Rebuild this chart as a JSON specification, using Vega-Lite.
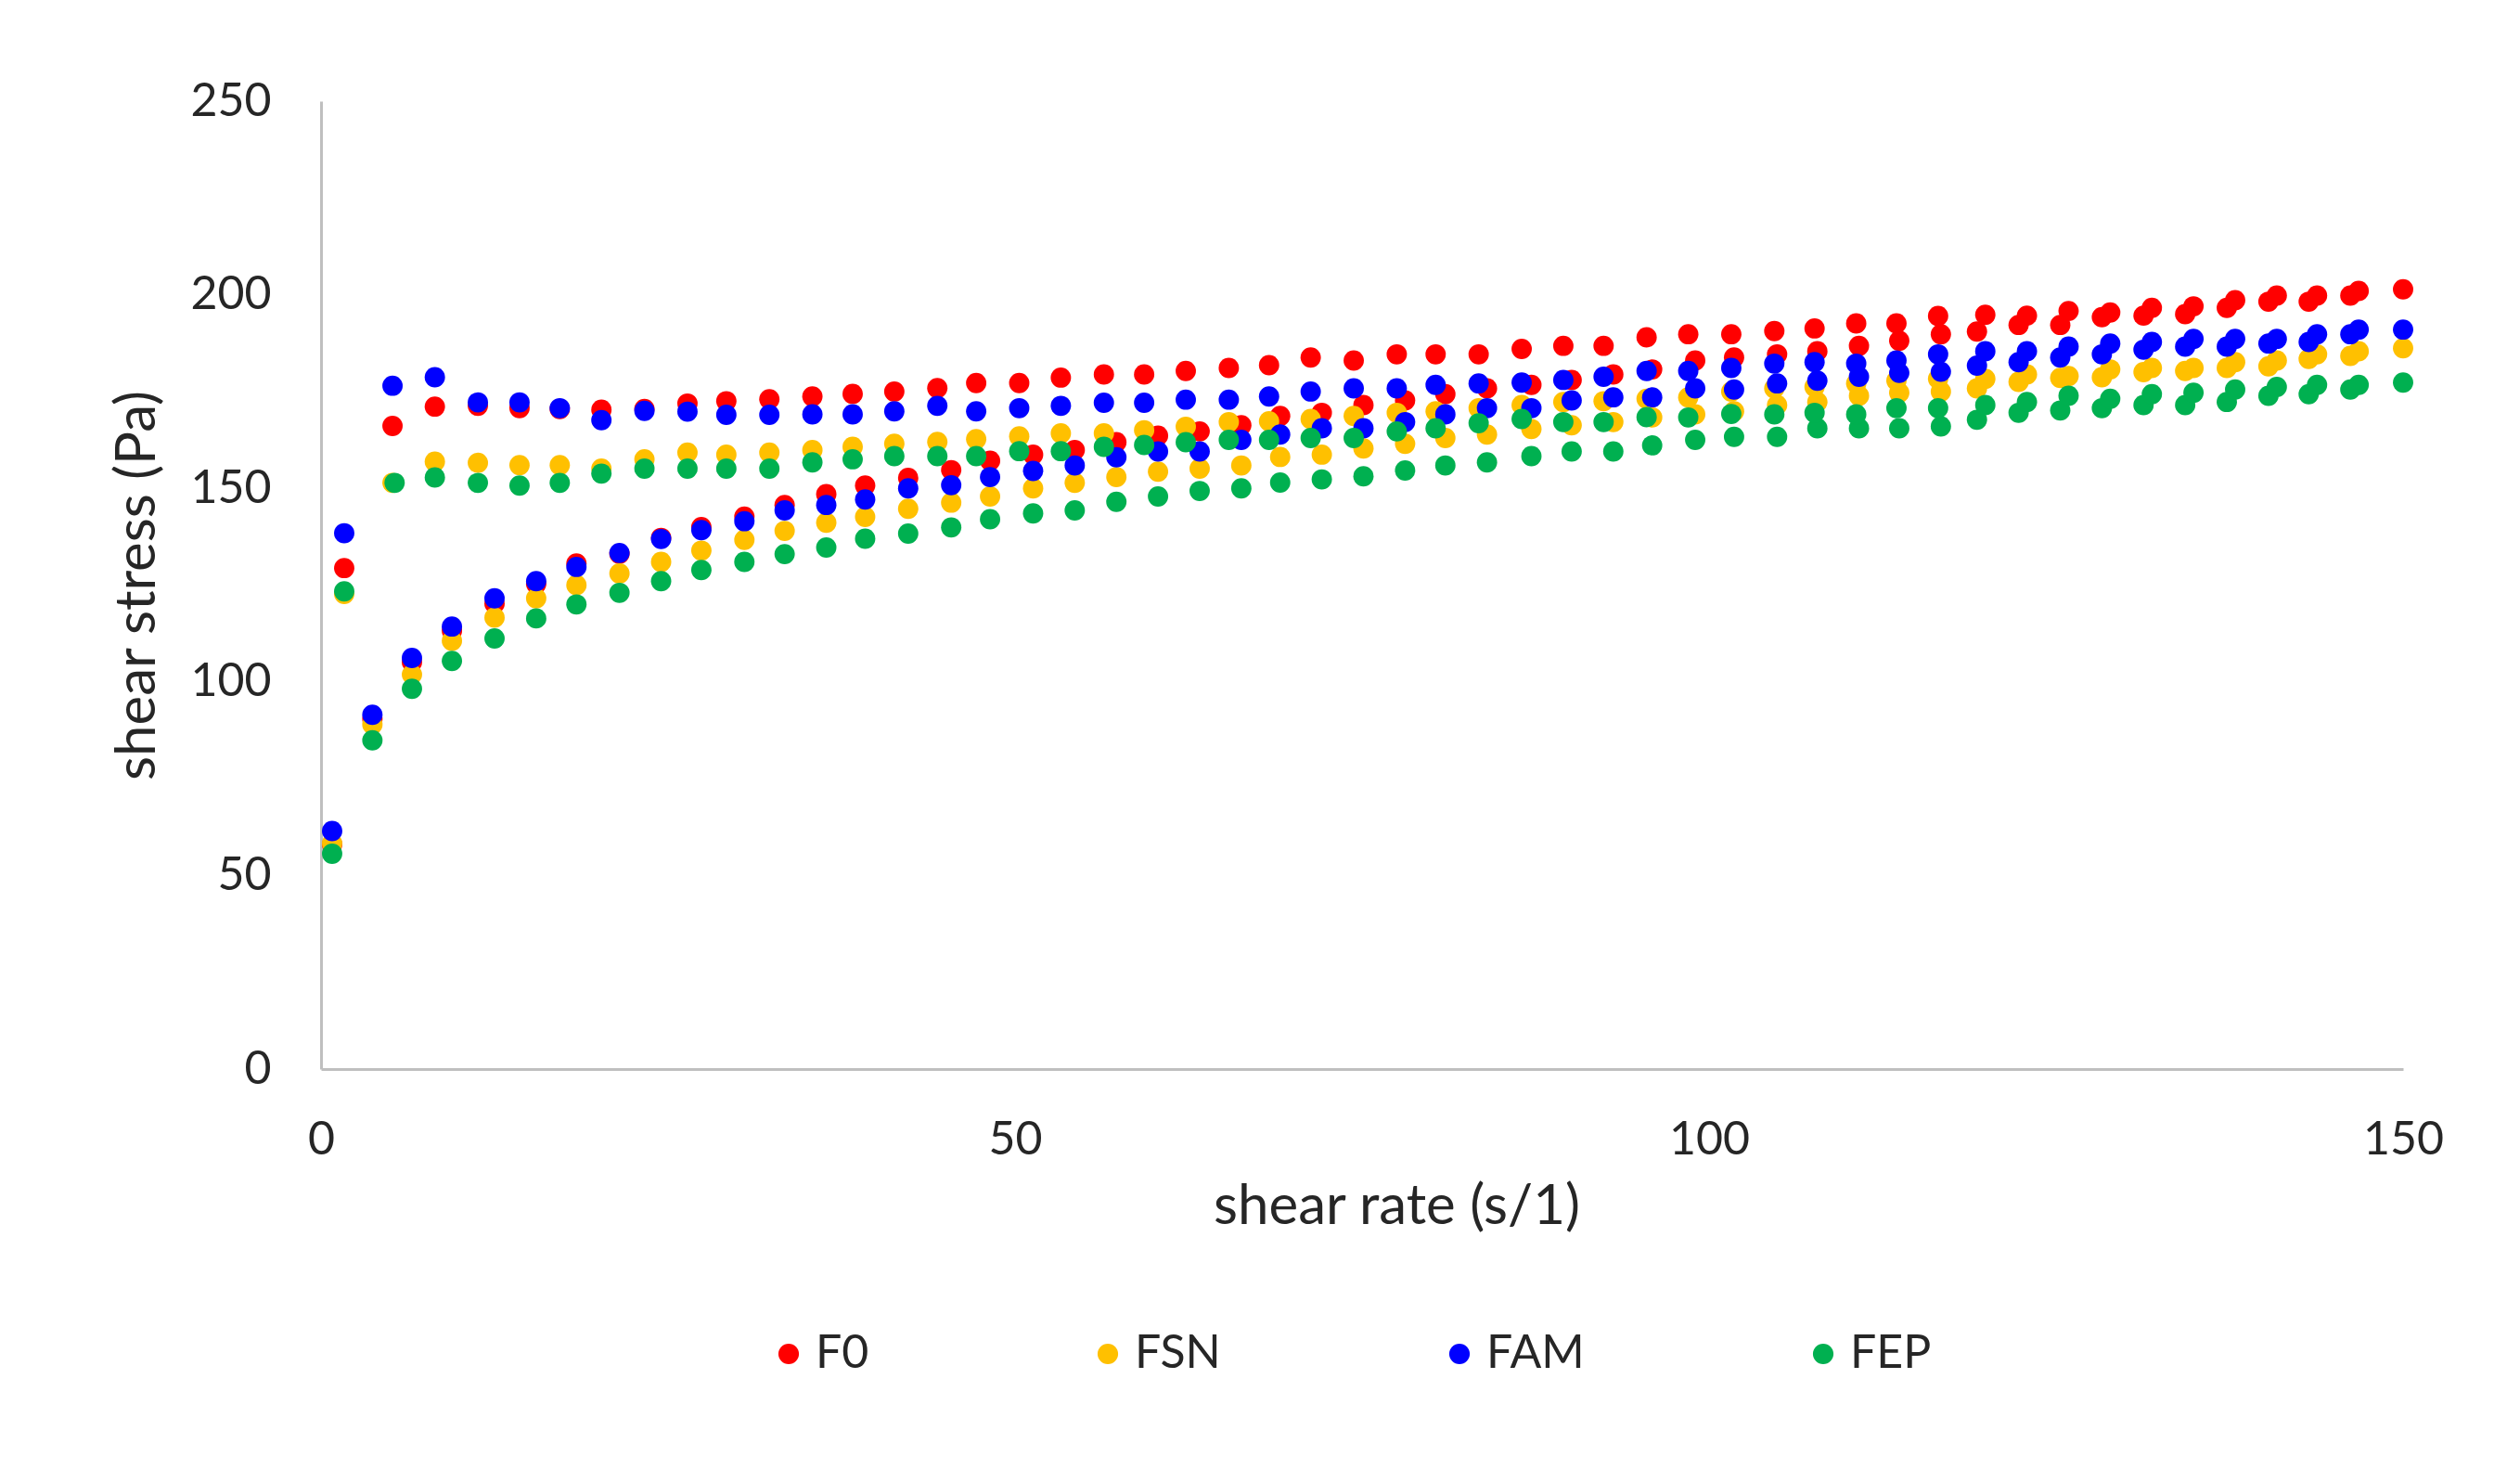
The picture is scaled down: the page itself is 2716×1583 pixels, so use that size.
{
"$schema": "https://vega.github.io/schema/vega-lite/v6.json",
"width": 2244,
"height": 1043,
"autosize": {"type": "none"},
"padding": {"left": 346, "top": 109, "right": 126, "bottom": 431},
"background": "white",
"config": {
  "view": {"stroke": null},
  "font": "Lato",
  "axis": {"domainColor": "#BFBFBF", "domainWidth": 3, "ticks": false, "grid": false, "labelFont": "Lato", "labelFontSize": 50, "labelColor": "#262626", "titleFont": "Lato", "titleFontSize": 60, "titleFontWeight": "normal", "titleColor": "#262626"},
  "legend": {"labelFont": "Lato", "labelFontSize": 50, "labelColor": "#262626"}
},
"data": {"values": [
{"s":"F0","x":0.8,"y":58},{"s":"F0","x":3.7,"y":90.4},{"s":"F0","x":6.55,"y":105.1},{"s":"F0","x":9.43,"y":113.2},{"s":"F0","x":12.5,"y":120.2},{"s":"F0","x":15.5,"y":125.3},{"s":"F0","x":18.4,"y":130.6},{"s":"F0","x":21.5,"y":133.1},{"s":"F0","x":24.5,"y":137.2},{"s":"F0","x":27.4,"y":140},
{"s":"F0","x":30.5,"y":142.7},{"s":"F0","x":33.4,"y":145.7},{"s":"F0","x":36.4,"y":148.5},{"s":"F0","x":39.2,"y":150.7},{"s":"F0","x":42.3,"y":152.7},{"s":"F0","x":45.4,"y":154.7},{"s":"F0","x":48.2,"y":157.1},{"s":"F0","x":51.3,"y":158.7},{"s":"F0","x":54.3,"y":159.9},{"s":"F0","x":57.3,"y":161.9},
{"s":"F0","x":60.3,"y":163.6},{"s":"F0","x":63.3,"y":164.7},{"s":"F0","x":66.3,"y":166.3},{"s":"F0","x":69.1,"y":168.7},{"s":"F0","x":72.1,"y":169.5},{"s":"F0","x":75.1,"y":171.5},{"s":"F0","x":78.1,"y":172.7},{"s":"F0","x":81,"y":174.3},{"s":"F0","x":84,"y":175.8},{"s":"F0","x":87.2,"y":176.7},
{"s":"F0","x":90.1,"y":178},{"s":"F0","x":93.1,"y":179.4},{"s":"F0","x":95.9,"y":180.7},{"s":"F0","x":99,"y":183},{"s":"F0","x":101.8,"y":183.8},{"s":"F0","x":104.9,"y":184.6},{"s":"F0","x":107.8,"y":185.4},{"s":"F0","x":110.8,"y":186.8},{"s":"F0","x":113.7,"y":188.1},{"s":"F0","x":116.7,"y":189.8},
{"s":"F0","x":119.3,"y":190.5},{"s":"F0","x":122.3,"y":192.2},{"s":"F0","x":125.3,"y":192.2},{"s":"F0","x":128.3,"y":194.2},{"s":"F0","x":131.3,"y":194.6},{"s":"F0","x":134.3,"y":195},{"s":"F0","x":137.3,"y":196.6},{"s":"F0","x":140.3,"y":198.2},{"s":"F0","x":143.2,"y":198.2},{"s":"F0","x":146.2,"y":199.8},{"s":"F0","x":150,"y":201.4},
{"s":"F0","x":1.67,"y":129.4},{"s":"F0","x":5.15,"y":166.1},{"s":"F0","x":8.2,"y":171.1},{"s":"F0","x":11.3,"y":171.3},{"s":"F0","x":14.3,"y":170.7},{"s":"F0","x":17.2,"y":170.5},{"s":"F0","x":20.2,"y":170.3},{"s":"F0","x":23.3,"y":170.5},{"s":"F0","x":26.4,"y":171.9},{"s":"F0","x":29.2,"y":172.5},
{"s":"F0","x":32.3,"y":173},{"s":"F0","x":35.4,"y":173.7},{"s":"F0","x":38.3,"y":174.4},{"s":"F0","x":41.3,"y":175},{"s":"F0","x":44.4,"y":175.9},{"s":"F0","x":47.2,"y":177.2},{"s":"F0","x":50.3,"y":177.2},{"s":"F0","x":53.3,"y":178.6},{"s":"F0","x":56.4,"y":179.4},{"s":"F0","x":59.3,"y":179.4},
{"s":"F0","x":62.3,"y":180.3},{"s":"F0","x":65.4,"y":181.1},{"s":"F0","x":68.3,"y":181.8},{"s":"F0","x":71.3,"y":183.8},{"s":"F0","x":74.4,"y":183},{"s":"F0","x":77.5,"y":184.6},{"s":"F0","x":80.3,"y":184.6},{"s":"F0","x":83.4,"y":184.6},{"s":"F0","x":86.5,"y":186},{"s":"F0","x":89.5,"y":186.8},
{"s":"F0","x":92.4,"y":186.8},{"s":"F0","x":95.5,"y":189},{"s":"F0","x":98.5,"y":189.8},{"s":"F0","x":101.6,"y":189.8},{"s":"F0","x":104.7,"y":190.6},{"s":"F0","x":107.6,"y":191.3},{"s":"F0","x":110.6,"y":192.6},{"s":"F0","x":113.5,"y":192.6},{"s":"F0","x":116.5,"y":194.5},{"s":"F0","x":119.9,"y":194.8},
{"s":"F0","x":122.9,"y":194.6},{"s":"F0","x":125.9,"y":195.8},{"s":"F0","x":128.9,"y":195.4},{"s":"F0","x":131.9,"y":196.6},{"s":"F0","x":134.9,"y":197},{"s":"F0","x":137.9,"y":198.6},{"s":"F0","x":140.9,"y":199.8},{"s":"F0","x":143.8,"y":199.8},{"s":"F0","x":146.8,"y":201},
{"s":"FSN","x":0.8,"y":58.3},{"s":"FSN","x":3.7,"y":89},{"s":"FSN","x":6.55,"y":101.9},{"s":"FSN","x":9.43,"y":110.6},{"s":"FSN","x":12.5,"y":116.6},{"s":"FSN","x":15.5,"y":121.6},{"s":"FSN","x":18.4,"y":125},{"s":"FSN","x":21.5,"y":128},{"s":"FSN","x":24.5,"y":131},{"s":"FSN","x":27.4,"y":133.9},
{"s":"FSN","x":30.5,"y":136.7},{"s":"FSN","x":33.4,"y":139},{"s":"FSN","x":36.4,"y":141.1},{"s":"FSN","x":39.2,"y":142.6},{"s":"FSN","x":42.3,"y":144.7},{"s":"FSN","x":45.4,"y":146.3},{"s":"FSN","x":48.2,"y":147.9},{"s":"FSN","x":51.3,"y":150},{"s":"FSN","x":54.3,"y":151.4},{"s":"FSN","x":57.3,"y":152.9},
{"s":"FSN","x":60.3,"y":154.3},{"s":"FSN","x":63.3,"y":155.1},{"s":"FSN","x":66.3,"y":155.9},{"s":"FSN","x":69.1,"y":158.1},{"s":"FSN","x":72.1,"y":158.7},{"s":"FSN","x":75.1,"y":160.3},{"s":"FSN","x":78.1,"y":161.5},{"s":"FSN","x":81,"y":163},{"s":"FSN","x":84,"y":163.9},{"s":"FSN","x":87.2,"y":165.3},
{"s":"FSN","x":90.1,"y":166.3},{"s":"FSN","x":93.1,"y":167.1},{"s":"FSN","x":95.9,"y":168.3},{"s":"FSN","x":99,"y":169.1},{"s":"FSN","x":101.8,"y":169.9},{"s":"FSN","x":104.9,"y":171.5},{"s":"FSN","x":107.8,"y":172.3},{"s":"FSN","x":110.8,"y":173.9},{"s":"FSN","x":113.7,"y":174.7},{"s":"FSN","x":116.7,"y":175},
{"s":"FSN","x":119.3,"y":175.8},{"s":"FSN","x":122.3,"y":177.5},{"s":"FSN","x":125.3,"y":178.5},{"s":"FSN","x":128.3,"y":178.7},{"s":"FSN","x":131.3,"y":180},{"s":"FSN","x":134.3,"y":180.3},{"s":"FSN","x":137.3,"y":181.1},{"s":"FSN","x":140.3,"y":181.5},{"s":"FSN","x":143.2,"y":183.4},{"s":"FSN","x":146.2,"y":184.2},{"s":"FSN","x":150,"y":186.2},
{"s":"FSN","x":1.67,"y":122.7},{"s":"FSN","x":5.15,"y":151.4},{"s":"FSN","x":8.2,"y":156.9},{"s":"FSN","x":11.3,"y":156.6},{"s":"FSN","x":14.3,"y":156},{"s":"FSN","x":17.2,"y":156},{"s":"FSN","x":20.2,"y":155.1},{"s":"FSN","x":23.3,"y":157.5},{"s":"FSN","x":26.4,"y":159.2},{"s":"FSN","x":29.2,"y":158.7},
{"s":"FSN","x":32.3,"y":159.2},{"s":"FSN","x":35.4,"y":159.9},{"s":"FSN","x":38.3,"y":160.7},{"s":"FSN","x":41.3,"y":161.5},{"s":"FSN","x":44.4,"y":162},{"s":"FSN","x":47.2,"y":162.7},{"s":"FSN","x":50.3,"y":163.4},{"s":"FSN","x":53.3,"y":164.2},{"s":"FSN","x":56.4,"y":164.2},{"s":"FSN","x":59.3,"y":165},
{"s":"FSN","x":62.3,"y":165.9},{"s":"FSN","x":65.4,"y":167.1},{"s":"FSN","x":68.3,"y":167.3},{"s":"FSN","x":71.3,"y":167.9},{"s":"FSN","x":74.4,"y":168.7},{"s":"FSN","x":77.5,"y":169.5},{"s":"FSN","x":80.3,"y":169.9},{"s":"FSN","x":83.4,"y":170.7},{"s":"FSN","x":86.5,"y":171.5},{"s":"FSN","x":89.5,"y":172.3},
{"s":"FSN","x":92.4,"y":172.5},{"s":"FSN","x":95.5,"y":173.1},{"s":"FSN","x":98.5,"y":173.5},{"s":"FSN","x":101.6,"y":175},{"s":"FSN","x":104.7,"y":175.8},{"s":"FSN","x":107.6,"y":176.2},{"s":"FSN","x":110.6,"y":177.1},{"s":"FSN","x":113.5,"y":177.8},{"s":"FSN","x":116.5,"y":178.3},{"s":"FSN","x":119.9,"y":178.3},
{"s":"FSN","x":122.9,"y":179.4},{"s":"FSN","x":125.9,"y":179},{"s":"FSN","x":128.9,"y":180.7},{"s":"FSN","x":131.9,"y":181.1},{"s":"FSN","x":134.9,"y":181.1},{"s":"FSN","x":137.9,"y":182.6},{"s":"FSN","x":140.9,"y":183},{"s":"FSN","x":143.8,"y":184.6},{"s":"FSN","x":146.8,"y":185.4},
{"s":"FAM","x":0.8,"y":61.5},{"s":"FAM","x":3.7,"y":91.5},{"s":"FAM","x":6.55,"y":106.2},{"s":"FAM","x":9.43,"y":114.3},{"s":"FAM","x":12.5,"y":121.6},{"s":"FAM","x":15.5,"y":126},{"s":"FAM","x":18.4,"y":129.7},{"s":"FAM","x":21.5,"y":133.3},{"s":"FAM","x":24.5,"y":136.9},{"s":"FAM","x":27.4,"y":139.2},
{"s":"FAM","x":30.5,"y":141.5},{"s":"FAM","x":33.4,"y":144.3},{"s":"FAM","x":36.4,"y":145.7},{"s":"FAM","x":39.2,"y":147.1},{"s":"FAM","x":42.3,"y":150},{"s":"FAM","x":45.4,"y":150.8},{"s":"FAM","x":48.2,"y":152.9},{"s":"FAM","x":51.3,"y":154.5},{"s":"FAM","x":54.3,"y":155.9},{"s":"FAM","x":57.3,"y":158},
{"s":"FAM","x":60.3,"y":159.5},{"s":"FAM","x":63.3,"y":159.5},{"s":"FAM","x":66.3,"y":162.5},{"s":"FAM","x":69.1,"y":163.9},{"s":"FAM","x":72.1,"y":165.5},{"s":"FAM","x":75.1,"y":165.5},{"s":"FAM","x":78.1,"y":167.1},{"s":"FAM","x":81,"y":169.1},{"s":"FAM","x":84,"y":170.7},{"s":"FAM","x":87.2,"y":170.7},
{"s":"FAM","x":90.1,"y":172.7},{"s":"FAM","x":93.1,"y":173.5},{"s":"FAM","x":95.9,"y":173.5},{"s":"FAM","x":99,"y":175.8},{"s":"FAM","x":101.8,"y":175.5},{"s":"FAM","x":104.9,"y":177.1},{"s":"FAM","x":107.8,"y":177.8},{"s":"FAM","x":110.8,"y":178.8},{"s":"FAM","x":113.7,"y":179.8},{"s":"FAM","x":116.7,"y":180.1},
{"s":"FAM","x":119.3,"y":181.7},{"s":"FAM","x":122.3,"y":182.6},{"s":"FAM","x":125.3,"y":183.8},{"s":"FAM","x":128.3,"y":184.6},{"s":"FAM","x":131.3,"y":185.8},{"s":"FAM","x":134.3,"y":186.6},{"s":"FAM","x":137.3,"y":186.6},{"s":"FAM","x":140.3,"y":187.4},{"s":"FAM","x":143.2,"y":187.8},{"s":"FAM","x":146.2,"y":189.8},{"s":"FAM","x":150,"y":191},
{"s":"FAM","x":1.67,"y":138.4},{"s":"FAM","x":5.15,"y":176.5},{"s":"FAM","x":8.2,"y":178.7},{"s":"FAM","x":11.3,"y":172.2},{"s":"FAM","x":14.3,"y":172.2},{"s":"FAM","x":17.2,"y":170.7},{"s":"FAM","x":20.2,"y":167.6},{"s":"FAM","x":23.3,"y":170},{"s":"FAM","x":26.4,"y":169.8},{"s":"FAM","x":29.2,"y":169},
{"s":"FAM","x":32.3,"y":169},{"s":"FAM","x":35.4,"y":169.1},{"s":"FAM","x":38.3,"y":169.1},{"s":"FAM","x":41.3,"y":169.9},{"s":"FAM","x":44.4,"y":171.3},{"s":"FAM","x":47.2,"y":169.9},{"s":"FAM","x":50.3,"y":170.7},{"s":"FAM","x":53.3,"y":171.3},{"s":"FAM","x":56.4,"y":172.1},{"s":"FAM","x":59.3,"y":172.1},
{"s":"FAM","x":62.3,"y":172.9},{"s":"FAM","x":65.4,"y":172.9},{"s":"FAM","x":68.3,"y":173.7},{"s":"FAM","x":71.3,"y":175},{"s":"FAM","x":74.4,"y":175.8},{"s":"FAM","x":77.5,"y":175.8},{"s":"FAM","x":80.3,"y":176.7},{"s":"FAM","x":83.4,"y":177.1},{"s":"FAM","x":86.5,"y":177.3},{"s":"FAM","x":89.5,"y":178},
{"s":"FAM","x":92.4,"y":178.8},{"s":"FAM","x":95.5,"y":180.3},{"s":"FAM","x":98.5,"y":180.3},{"s":"FAM","x":101.6,"y":181.1},{"s":"FAM","x":104.7,"y":182.2},{"s":"FAM","x":107.6,"y":182.6},{"s":"FAM","x":110.6,"y":182.2},{"s":"FAM","x":113.5,"y":183},{"s":"FAM","x":116.5,"y":184.6},{"s":"FAM","x":119.9,"y":185.4},
{"s":"FAM","x":122.9,"y":185.4},{"s":"FAM","x":125.9,"y":186.6},{"s":"FAM","x":128.9,"y":187.4},{"s":"FAM","x":131.9,"y":187.8},{"s":"FAM","x":134.9,"y":188.6},{"s":"FAM","x":137.9,"y":188.6},{"s":"FAM","x":140.9,"y":188.6},{"s":"FAM","x":143.8,"y":189.8},{"s":"FAM","x":146.8,"y":191},
{"s":"FEP","x":0.8,"y":55.6},{"s":"FEP","x":3.7,"y":84.9},{"s":"FEP","x":6.55,"y":98.2},{"s":"FEP","x":9.43,"y":105.4},{"s":"FEP","x":12.5,"y":111.2},{"s":"FEP","x":15.5,"y":116.4},{"s":"FEP","x":18.4,"y":120},{"s":"FEP","x":21.5,"y":123},{"s":"FEP","x":24.5,"y":126},{"s":"FEP","x":27.4,"y":128.9},
{"s":"FEP","x":30.5,"y":131},{"s":"FEP","x":33.4,"y":133},{"s":"FEP","x":36.4,"y":134.7},{"s":"FEP","x":39.2,"y":137},{"s":"FEP","x":42.3,"y":138.3},{"s":"FEP","x":45.4,"y":139.9},{"s":"FEP","x":48.2,"y":142},{"s":"FEP","x":51.3,"y":143.5},{"s":"FEP","x":54.3,"y":144.3},{"s":"FEP","x":57.3,"y":146.5},
{"s":"FEP","x":60.3,"y":147.9},{"s":"FEP","x":63.3,"y":149.3},{"s":"FEP","x":66.3,"y":150},{"s":"FEP","x":69.1,"y":151.5},{"s":"FEP","x":72.1,"y":152.3},{"s":"FEP","x":75.1,"y":153.1},{"s":"FEP","x":78.1,"y":154.6},{"s":"FEP","x":81,"y":155.9},{"s":"FEP","x":84,"y":156.7},{"s":"FEP","x":87.2,"y":158.3},
{"s":"FEP","x":90.1,"y":159.5},{"s":"FEP","x":93.1,"y":159.5},{"s":"FEP","x":95.9,"y":161.1},{"s":"FEP","x":99,"y":162.5},{"s":"FEP","x":101.8,"y":163.3},{"s":"FEP","x":104.9,"y":163.3},{"s":"FEP","x":107.8,"y":165.5},{"s":"FEP","x":110.8,"y":165.5},{"s":"FEP","x":113.7,"y":165.5},{"s":"FEP","x":116.7,"y":166},
{"s":"FEP","x":119.3,"y":167.7},{"s":"FEP","x":122.3,"y":169.5},{"s":"FEP","x":125.3,"y":170.1},{"s":"FEP","x":128.3,"y":170.7},{"s":"FEP","x":131.3,"y":171.5},{"s":"FEP","x":134.3,"y":171.5},{"s":"FEP","x":137.3,"y":172.3},{"s":"FEP","x":140.3,"y":173.9},{"s":"FEP","x":143.2,"y":174.3},{"s":"FEP","x":146.2,"y":175.5},{"s":"FEP","x":150,"y":177.3},
{"s":"FEP","x":1.67,"y":123.4},{"s":"FEP","x":5.3,"y":151.4},{"s":"FEP","x":8.2,"y":152.8},{"s":"FEP","x":11.3,"y":151.4},{"s":"FEP","x":14.3,"y":150.7},{"s":"FEP","x":17.2,"y":151.4},{"s":"FEP","x":20.2,"y":153.8},{"s":"FEP","x":23.3,"y":155.1},{"s":"FEP","x":26.4,"y":155.1},{"s":"FEP","x":29.2,"y":155.1},
{"s":"FEP","x":32.3,"y":155.1},{"s":"FEP","x":35.4,"y":156.7},{"s":"FEP","x":38.3,"y":157.5},{"s":"FEP","x":41.3,"y":158.3},{"s":"FEP","x":44.4,"y":158.3},{"s":"FEP","x":47.2,"y":158.3},{"s":"FEP","x":50.3,"y":159.6},{"s":"FEP","x":53.3,"y":159.6},{"s":"FEP","x":56.4,"y":160.7},{"s":"FEP","x":59.3,"y":161.2},
{"s":"FEP","x":62.3,"y":161.9},{"s":"FEP","x":65.4,"y":162.5},{"s":"FEP","x":68.3,"y":162.5},{"s":"FEP","x":71.3,"y":163},{"s":"FEP","x":74.4,"y":163},{"s":"FEP","x":77.5,"y":164.7},{"s":"FEP","x":80.3,"y":165.5},{"s":"FEP","x":83.4,"y":166.8},{"s":"FEP","x":86.5,"y":167.9},{"s":"FEP","x":89.5,"y":167.1},
{"s":"FEP","x":92.4,"y":167.1},{"s":"FEP","x":95.5,"y":168.4},{"s":"FEP","x":98.5,"y":168.3},{"s":"FEP","x":101.6,"y":169.2},{"s":"FEP","x":104.7,"y":169.1},{"s":"FEP","x":107.6,"y":169.5},{"s":"FEP","x":110.6,"y":169.1},{"s":"FEP","x":113.5,"y":170.7},{"s":"FEP","x":116.5,"y":170.7},{"s":"FEP","x":119.9,"y":171.5},
{"s":"FEP","x":122.9,"y":172.3},{"s":"FEP","x":125.9,"y":173.9},{"s":"FEP","x":128.9,"y":173.1},{"s":"FEP","x":131.9,"y":174.3},{"s":"FEP","x":134.9,"y":174.7},{"s":"FEP","x":137.9,"y":175.5},{"s":"FEP","x":140.9,"y":176.2},{"s":"FEP","x":143.8,"y":176.7},{"s":"FEP","x":146.8,"y":176.7}
]},
"mark": {"type": "point", "filled": true, "opacity": 1, "size": 480, "strokeWidth": 0},
"encoding": {
  "x": {"field": "x", "type": "quantitative", "title": "shear rate (s/1)",
        "scale": {"domain": [0, 150], "nice": false, "zero": false},
        "axis": {"values": [0, 50, 100, 150], "labelPadding": 51, "titlePadding": 18, "labelFlush": false, "titleX": 1159}},
  "y": {"field": "y", "type": "quantitative", "title": "shear stress (Pa)",
        "scale": {"domain": [0, 250], "nice": false},
        "axis": {"values": [0, 50, 100, 150, 200, 250], "labelPadding": 54, "titlePadding": 25}},
  "color": {"field": "s", "type": "nominal", "sort": ["F0", "FSN", "FAM", "FEP"],
        "scale": {"domain": ["F0", "FSN", "FAM", "FEP"], "range": ["#FF0000", "#FFC000", "#0000FF", "#00B050"]},
        "legend": {"title": null, "orient": "none", "direction": "horizontal", "legendX": 479, "legendY": 1325,
                   "symbolType": "circle", "symbolSize": 490, "symbolStrokeWidth": 0, "labelOffset": 4, "columnPadding": 232, "padding": 0}}
}
}
